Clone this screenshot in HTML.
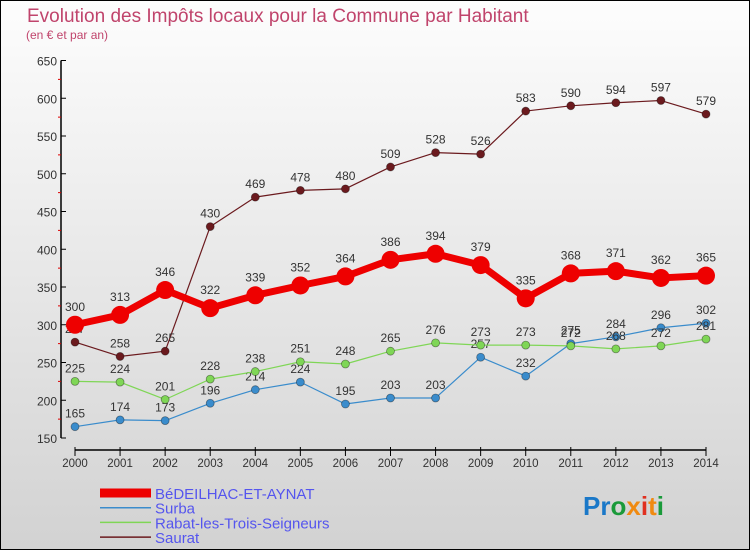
<!DOCTYPE html>
<html><head><meta charset="utf-8"><style>
body{margin:0;}
svg{display:block;font-family:"Liberation Sans",sans-serif;}
</style></head><body>
<svg id="c" width="750" height="550" xmlns="http://www.w3.org/2000/svg">
<defs><linearGradient id="bg" x1="0" y1="0" x2="0" y2="1"><stop offset="0" stop-color="#fdfdfd"/><stop offset="1" stop-color="#d2d2d2"/></linearGradient></defs>
<rect x="0.5" y="0.5" width="749" height="549" fill="url(#bg)" stroke="#000"/>
<text x="27" y="22" font-size="19" fill="#c0446c">Evolution des Impôts locaux pour la Commune par Habitant</text>
<text x="26" y="39" font-size="12" fill="#c0446c">(en € et par an)</text>
<g id="axes"></g>
<g id="series"></g>
<g id="legend"></g>
<text x="583" y="515" font-size="26" font-weight="bold"><tspan fill="#1a78c8">Pr</tspan><tspan fill="#1a9a3a">o</tspan><tspan fill="#f08a10">x</tspan><tspan fill="#e03020">i</tspan><tspan fill="#f08a10">t</tspan><tspan fill="#1a9a3a">i</tspan></text>
</svg>
<script>
const years=[2000,2001,2002,2003,2004,2005,2006,2007,2008,2009,2010,2011,2012,2013,2014];
const yTicks=[150,200,250,300,350,400,450,500,550,600,650];
const bedeilhac=[300,313,346,322,339,352,364,386,394,379,335,368,371,362,365];
const surba=[165,174,173,196,214,224,195,203,203,257,232,275,284,296,302];
const rabat=[225,224,201,228,238,251,248,265,276,273,273,272,268,272,281];
const saurat=[277,258,265,430,469,478,480,509,528,526,583,590,594,597,579];
const seriesNames=["BéDEILHAC-ET-AYNAT","Surba","Rabat-les-Trois-Seigneurs","Saurat"];
const NS="http://www.w3.org/2000/svg";
const xs=i=>75+i*(706-75)/(years.length-1);
const ys=v=>438-(v-150)*(377.5/500);
function mk(tag,attrs,parent){const e=document.createElementNS(NS,tag);for(const k in attrs)e.setAttribute(k,attrs[k]);parent.appendChild(e);return e;}
const ax=document.getElementById('axes');
let yl=mk('line',{x1:61,y1:ys(650),x2:61,y2:ys(150),stroke:'#000','stroke-width':1.5},ax);


yTicks.forEach((t,i)=>{
 mk('line',{x1:61,y1:ys(t),x2:66,y2:ys(t),stroke:'#000'},ax);
 if(i<yTicks.length-1){mk('line',{x1:58,y1:ys(t+25),x2:61,y2:ys(t+25),stroke:'#d00'},ax);}
 const tx=mk('text',{x:57,y:ys(t)+5,'font-size':12,fill:'#333','text-anchor':'end'},ax);
 tx.textContent=t;
 
 
});
let xl=mk('line',{x1:75,y1:450,x2:706,y2:450,stroke:'#000','stroke-width':1.5},ax);


years.forEach((y,i)=>{
 mk('line',{x1:xs(i),y1:447,x2:xs(i),y2:456,stroke:'#000'},ax);
 const tx=mk('text',{x:xs(i),y:467,'font-size':11.5,fill:'#333','text-anchor':'middle'},ax);
 tx.textContent=y;
 
 
});
const sg=document.getElementById('series');
const defs=[[saurat,'#6b1a1e',1.2,4,'saurat'],[surba,'#3a8ccc',1.2,4,'surba'],[rabat,'#7fd656',1.2,4,'rabat'],[bedeilhac,'#ee0000',7,9,'bedeilhac']];
defs.forEach(([d,col,w,r,n])=>{
 const g=mk('g',{},sg);
 
 
 const pl=mk('polyline',{points:d.map((v,i)=>xs(i)+','+ys(v)).join(' '),fill:'none',stroke:col,'stroke-width':w,'stroke-linejoin':'round'},g);
 
 
 d.forEach((v,i)=>{
  const c=mk('circle',{cx:xs(i),cy:ys(v),r:r,fill:col,stroke:n=='bedeilhac'?'none':'rgba(0,0,0,0.4)','stroke-width':0.8},g);
  
  
  const t=mk('text',{x:xs(i),y:ys(v)-(r+5),'font-size':12,fill:'#333','text-anchor':'middle'},g);
  t.textContent=v;
  
  
 });
});
const lg=document.getElementById('legend');
const lcol=['#ee0000','#3a8ccc','#7fd656','#6b1a1e'],lw=[9,1.5,1.5,1.5];
seriesNames.forEach((s,i)=>{
 const y=493+i*14.7;
 const g=mk('g',{},lg);
 
 
 mk('line',{x1:100,y1:y,x2:151,y2:y,stroke:lcol[i],'stroke-width':lw[i]},g);
 const t=mk('text',{x:155,y:y+6,'font-size':15,fill:'#5555ee'},g);
 t.textContent=s;
});
</script>
</body></html>
